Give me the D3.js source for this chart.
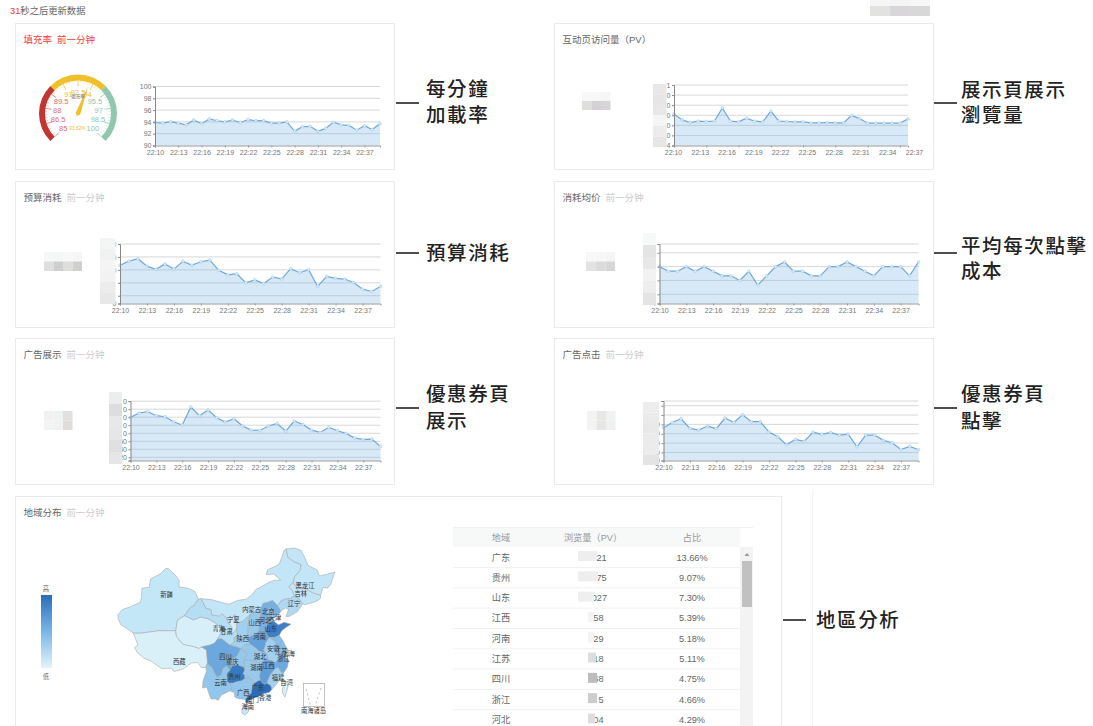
<!DOCTYPE html>
<meta charset="utf-8">
<style>
  body { margin: 0; background: #fff; }
  svg { display: block; font-family: "Liberation Sans", "Noto Sans CJK SC", sans-serif; }
  .title { font-size: 9.5px; fill: #666; }
  .sub { font-size: 9.5px; fill: #ccc; }
  .note { font-family: "Noto Sans CJK TC", sans-serif; font-size: 19.5px; font-weight: 500; fill: #222; letter-spacing: 1.6px; }
  .axis text { font-size: 7px; fill: #777; font-family: "Liberation Sans", sans-serif; }
  .cell { font-size: 9.2px; fill: #666; text-anchor: middle; }
  .head { font-size: 9.2px; fill: #999; text-anchor: middle; }
</style>
<script src="https://d3js.org/d3.v7.min.js"></script>

<div id="my_dataviz"></div>

<script>

// series, 22:10 - 22:39, one value a minute
var minutes = ["22:10","22:11","22:12","22:13","22:14","22:15","22:16","22:17","22:18","22:19",
  "22:20","22:21","22:22","22:23","22:24","22:25","22:26","22:27","22:28","22:29",
  "22:30","22:31","22:32","22:33","22:34","22:35","22:36","22:37","22:38","22:39"];
var tickLabels = ["22:10","22:13","22:16","22:19","22:22","22:25","22:28","22:31","22:34","22:37"];

var fillRate = [93.9,93.8,94.05,93.8,93.5,94.3,93.7,94.5,94.2,94,94.3,93.9,94.4,94.2,94.2,93.8,93.8,94,92.4,93.2,93.25,92.4,92.9,93.95,93.5,93.4,92.6,93.35,92.7,93.7];
var pageViews = [3.13,2.54,2.28,2.41,2.38,2.41,3.73,2.41,2.34,2.71,2.41,2.34,3.4,2.41,2.38,2.34,2.34,2.24,2.24,2.28,2.24,2.24,2.97,2.67,2.21,2.21,2.21,2.21,2.21,2.64];
var budgetSpend = [535,568,586,529,504,545,506,566,537,563,576,496,462,470,400,423,395,444,431,509,478,501,372,449,434,429,403,351,333,372];
var avgCost = [.28,.27,.27,.28,.27,.28,.27,.26,.26,.25,.27,.24,.26,.28,.29,.27,.27,.26,.26,.28,.28,.29,.28,.27,.26,.28,.28,.28,.26,.29];
var adViews = [698,752,769,719,706,644,602,827,719,790,694,640,681,590,539,535,590,623,527,652,610,539,510,573,531,498,439,423,427,335];
var adClicks = [46.4,52.1,56,45.7,43.9,48.2,45.4,56.8,52.1,60.4,52.9,52.9,41.8,36.8,28.2,33.9,31.8,41.8,39.3,41.4,38.6,39.6,26.1,38.6,38.6,32.9,30.4,23.2,26.4,22.9];

// y tick values, and what can still be read of their labels (the rest is blurred)
var fillTicks = [90,92,94,96,98,100];
var viewTicks = [0,1,2,3,4,5,6];
var viewTickText = ["4","0","0","0","0","0","1"];
var budgetTicks = [240,300,400,500,600,700];
var budgetTickText = ["0","","","0","0","0"];
var costTicks = [.2,.22,.25,.28,.31,.329];
var costTickText = ["4","","","2","",""];
var adViewTicks = [160,200,300,400,500,600,700,800,900];
var adViewTickText = ["","20","40","60","0","0","0","0","0"];
var clickTicks = [11.4,20,30,40,50,60,70,75];
var clickTickText = ["0","0","0","0","0","","",""];

// gauge
var gaugeValue = 93.62;
var gaugeLabels = [85,86.5,88,89.5,91,92.5,94,95.5,97,98.5,100];

// table
var tableRegions = ["广东","贵州","山东","江西","河南","江苏","四川","浙江","河北"];
var tableViews = ["21","75","027","58","29","18","68","5","04"];
var tableShares = ["13.66%","9.07%","7.30%","5.39%","5.18%","5.11%","4.75%","4.66%","4.29%"];

// map, rough outlines in lon/lat
var provinceNames = ["新疆","西藏","青海","甘肃","内蒙古","宁夏","陕西","山西","河北","北京","天津","辽宁","吉林","黑龙江","山东","河南","江苏","安徽","上海","浙江","湖北","湖南","江西","福建","四川","重庆","贵州","云南","广西","广东","海南","台湾"];
var provinceShares = [1,.2,.3,1.6,1.1,.4,2.4,2.8,4.29,3.1,1.5,1.9,1.1,1.1,7.3,5.18,3.6,2.4,2.6,4.66,2.9,2.8,5.39,2.4,4.75,2.9,9.07,3,3,13.66,.9,.3];
var provinceLabelAt = [[87.4,43.6],[91,29.5],[102.2,36.4],[104.4,35.8],[111.5,40.5],[106.3,38.3],[109,34.2],[112.4,37.6],[115.3,38.1],[116.2,39.9],[118.1,38.8],[123.5,41.7],[125.4,43.7],[126.6,45.5],[116.9,36.4],[113.7,34.6],[119.8,31.6],[117.6,32.1],[121.9,31.1],[120.5,30],[113.9,30.5],[112.9,28.2],[116.2,28.6],[119,26.1],[104.1,30.5],[106,29.3],[106.6,26.3],[102.7,25],[109.1,22.8],[113.2,24],[110.4,19.8],[121.4,25]];
var cityNames = ["香港","澳门"];
var cityLabelAt = [[115.3,21.7],[111.7,21.4]];
var provinceShapes = [
  [[73.6,39.4],[74.9,40.5],[76.9,41],[79.9,42],[80.3,43],[80.4,45],[82.5,45.2],[82.9,47],[85.6,48],[87,49.1],[87.8,49.2],[89.7,47.9],[91,46.6],[90.9,45.3],[93.5,45],[95.4,44.3],[96.4,42.7],[95.3,41.5],[93.9,40.7],[92.5,39.2],[90.5,38.3],[90,36],[85,36],[80.3,35.5],[78,35.5],[75.9,36.6],[74.5,37.2],[73.7,38.5]],
  [[78,35.5],[80.3,35.5],[85,36],[90,36],[90.2,34.8],[92,33.2],[93,33],[95,32.7],[96.5,32.3],[97.4,32.6],[98.7,31.9],[99,29.2],[98.5,28.3],[97.3,28.2],[96.2,29.3],[94.5,29.2],[92,27.9],[89.5,27.4],[88.8,28.1],[86,28],[83,29.6],[81,30.2],[79,31.5],[78.4,32.5],[79.3,33],[78.5,34.5]],
  [[90,36],[90.5,38.3],[92.5,39.2],[95,38.3],[97,38.9],[99,38.6],[101,37.8],[102.7,36.7],[102.8,35.5],[101.8,34.2],[101,33.4],[99.8,33],[97.4,32.6],[96.5,32.3],[95,32.7],[93,33],[92,33.2],[90.2,34.8]],
  [[92.5,39.2],[93.9,40.7],[95.3,41.5],[96.4,42.7],[97.2,42.8],[98.5,40.8],[100,40.5],[100.2,39.4],[102.4,39.1],[103,39.6],[104.2,38.9],[105,37.6],[106,36.6],[105.5,35.7],[106.1,35.4],[106.6,35.8],[107.3,36.6],[107.5,35],[106.5,34.5],[106.6,33.7],[105.4,32.9],[103,34.3],[101.8,34.2],[102.8,35.5],[102.7,36.7],[101,37.8],[99,38.6],[97,38.9],[95,38.3]],
  [[97.2,42.8],[100,42.6],[102,42.2],[105,41.6],[107.5,42.4],[110,42.7],[111.8,43.8],[112.8,44.8],[114.5,45.4],[116.5,46.3],[118,46.7],[119.7,46.7],[117.8,48],[115.6,47.9],[116,48.9],[117.8,49.5],[119.3,50.1],[120,51.5],[120.7,53],[121.2,53.3],[121.8,51.5],[123.5,50.6],[125.5,50],[125.2,48.7],[123.7,47.5],[123.2,46.2],[122,45.3],[123,44.5],[123.6,43.4],[122.5,42.8],[121,42.7],[119.8,42.3],[118.9,41.3],[117.4,42.4],[116,42],[114.8,41.8],[113.9,40.5],[113,40.4],[111.9,39.7],[111.1,39.5],[110.5,39],[108.8,37.9],[107.3,37.6],[106.7,39.4],[105.8,38.5],[105,37.6],[104.2,38.9],[103,39.6],[102.4,39.1],[100.2,39.4],[100,40.5],[98.5,40.8]],
  [[107.3,37.6],[106.7,39.4],[105.8,38.5],[105,37.6],[106,36.6],[105.5,35.7],[106.1,35.4],[106.6,35.8],[107.3,36.6]],
  [[111.1,39.5],[110.6,38],[110.5,36.5],[110.4,34.6],[111,33.2],[109.6,33.1],[108.4,32.2],[107.2,32.6],[105.4,32.9],[106.6,33.7],[106.5,34.5],[107.5,35],[107.3,36.6],[107.3,37.6],[108.8,37.9],[110.5,39]],
  [[111.1,39.5],[111.9,39.7],[113,40.4],[113.9,40.5],[114.1,39.5],[113.7,37.5],[113.6,36],[112.7,35.2],[111.2,34.8],[110.4,34.6],[110.5,36.5],[110.6,38]],
  [[113.6,36],[113.7,37.5],[114.1,39.5],[113.9,40.5],[114.8,41.8],[116,42],[117.4,42.4],[118.9,41.3],[119.8,40.2],[119.5,39.8],[118.5,39],[117.7,38.7],[117.5,38.2],[116.2,37.5],[115.4,36.5],[115.4,35.8],[114.9,36.1]],
  [[115.5,39.7],[116,40.6],[117,40.9],[117.4,40.2],[116.7,39.6],[116,39.6]],
  [[116.7,39.6],[117.4,40.2],[117.8,39.4],[117.6,38.7],[117.1,38.8]],
  [[119.8,40.2],[118.9,41.3],[119.8,42.3],[121,42.7],[122.5,42.8],[123.6,43.4],[124.8,42.9],[126,41.7],[124.4,40],[122,39],[121.2,39],[122,40.6],[121,40.8]],
  [[122,45.3],[123.2,46.2],[124.3,45.2],[126,45.2],[127.5,44.6],[129,44],[131,43.5],[131,42.9],[130.5,42.5],[129,42],[126.5,41.5],[126,41.7],[124.8,42.9],[123.6,43.4],[123,44.5]],
  [[121.2,53.3],[123.5,53.5],[125.5,53],[126.5,51.5],[127.5,49.8],[130,48.9],[130.7,47.6],[133,48],[135,48.4],[134,46],[133,45],[131.7,45.2],[131,43.5],[129,44],[127.5,44.6],[126,45.2],[124.3,45.2],[123.2,46.2],[123.7,47.5],[125.2,48.7],[125.5,50],[123.5,50.6],[121.8,51.5]],
  [[115.4,35.8],[115.4,36.5],[116.2,37.5],[117.5,38.2],[118.9,37.4],[119,37.2],[120.7,37.8],[122.6,37.4],[121,36.6],[120,36],[119.3,35],[118,34.6],[116.4,34.6],[116,34.9]],
  [[110.4,34.6],[111.2,34.8],[112.7,35.2],[113.6,36],[114.9,36.1],[115.4,35.8],[116,34.9],[116.4,34.6],[116,34],[115.5,33.5],[115.3,32.7],[114.9,32],[115.2,31.4],[113.7,31.6],[112.5,32.4],[111,33.2]],
  [[116.4,34.6],[118,34.6],[119.3,35],[120.3,34],[120.9,33],[121.9,31.8],[121.2,31.7],[121,30.8],[120.4,31],[119.6,31.1],[118.8,31.3],[119,32.3],[118.5,32.4],[118.3,33.5],[117.3,34.2]],
  [[116.4,34.6],[117.3,34.2],[118.3,33.5],[118.5,32.4],[119,32.3],[118.8,31.3],[119.6,31.1],[119.2,30.3],[118.2,29.2],[117.1,29.7],[116.1,29.8],[115.9,31],[115.2,31.4],[114.9,32],[115.3,32.7],[115.5,33.5],[116,34]],
  [[121,30.8],[121.9,30.9],[121.9,31.8],[121.2,31.7]],
  [[118.9,28.3],[119.9,27.2],[120.5,27],[121.6,28.3],[122,29.8],[121,30.5],[121,30.8],[120.4,31],[119.6,31.1],[119.2,30.3],[118.2,29.2],[118.2,28]],
  [[108.4,32.2],[109.6,33.1],[111,33.2],[112.5,32.4],[113.7,31.6],[115.2,31.4],[115.9,31],[116.1,29.8],[115,29.7],[114,29],[113,29.5],[112,29.6],[110.5,29.7],[109.2,29.8],[110.2,30.9],[109.6,31.6]],
  [[109.2,29.8],[110.5,29.7],[112,29.6],[113,29.5],[114,29],[114,27.5],[113.7,26.3],[114,25.6],[113,25.3],[112,24.8],[111.3,25.8],[110.6,26.3],[109.5,25.8],[109.5,26.6],[109,27],[109.5,27.6],[109.3,28.3],[109.3,29]],
  [[114,25.6],[114.4,25.1],[115.2,24.7],[115.9,24.9],[116,25.3],[116.6,26.4],[117.1,27],[118.2,28],[118.2,29.2],[117.1,29.7],[116.1,29.8],[115,29.7],[114,29],[114,27.5],[113.7,26.3]],
  [[115.9,24.9],[116.9,24.4],[117.2,23.6],[118.2,24.4],[119,25.2],[119.6,26],[120.5,27],[119.9,27.2],[118.9,28.3],[118.2,28],[117.1,27],[116.6,26.4],[116,25.3]],
  [[97.4,32.6],[99.8,33],[101,33.4],[101.8,34.2],[103,34.3],[105.4,32.9],[107.2,32.6],[108.4,32.2],[107.4,30.7],[106.3,30],[105.5,29.3],[106.2,28.8],[105.3,27.7],[104.3,28.6],[103.4,28],[102.8,26.6],[101.7,26.2],[101,27],[100.2,28.3],[99.3,28.7],[99,29.2],[98.7,31.9]],
  [[108.4,32.2],[109.6,31.6],[110.2,30.9],[109.2,29.8],[109.3,29],[109.3,28.3],[108.5,28.5],[107.4,28.9],[106.5,28.6],[106.2,28.8],[105.5,29.3],[106.3,30],[107.4,30.7]],
  [[105.3,27.7],[106.2,28.8],[106.5,28.6],[107.4,28.9],[108.5,28.5],[109.3,28.3],[109.5,27.6],[109,27],[109.5,26.6],[109.5,25.8],[108.6,25.4],[107.2,25.2],[106.2,24.9],[105.2,24.9],[104.5,25.2],[104.4,26.9]],
  [[98.5,28.3],[99,29.2],[99.3,28.7],[100.2,28.3],[101,27],[101.7,26.2],[102.8,26.6],[103.4,28],[104.3,28.6],[105.3,27.7],[104.4,26.9],[104.5,25.2],[105.2,24.9],[106,24],[105.3,23.3],[104,22.8],[103,22.5],[102,21.3],[101.2,21.6],[100,21.6],[99.3,22.9],[98.8,24.1],[97.6,23.9],[97.7,25.3],[98.7,27.5]],
  [[105.2,24.9],[106.2,24.9],[107.2,25.2],[108.6,25.4],[109.5,25.8],[110.6,26.3],[111.3,25.8],[112,24.8],[111.7,23.8],[111.4,22.9],[110.6,22.2],[109.7,21.5],[108.5,21.6],[107.9,21.6],[106.7,22],[106.6,22.9],[105.3,23.3],[106,24]],
  [[112,24.8],[113,25.3],[114,25.6],[114.4,25.1],[115.2,24.7],[115.9,24.9],[116.9,24.4],[117.2,23.6],[116.5,23],[114.8,22.7],[113.6,22.2],[112,21.7],[110.5,21.2],[110.2,20.4],[109.8,20.9],[109.7,21.5],[110.6,22.2],[111.4,22.9],[111.7,23.8]],
  [[108.7,19.3],[109.2,19.9],[110.5,20.1],[111,19.6],[110.4,18.7],[109.5,18.2],[108.7,18.6]],
  [[121.5,25.3],[122,25],[121.4,23.1],[120.9,22],[120.2,23],[120.3,24],[121,25]]
];

var svg = d3.select("#my_dataviz").append("svg")
  .attr("width", 1093)
  .attr("height", 726);

// top line
var topText = svg.append("text").attr("x", 10).attr("y", 14).attr("font-size", 9.3).attr("fill", "#666");
topText.append("tspan").attr("fill", "#e33").text("31");
topText.append("tspan").text("秒之后更新数据");

function card(x, y, w, h, title, sub, red) {
  svg.append("rect").attr("x", x + .5).attr("y", y + .5).attr("width", w).attr("height", h)
    .attr("fill", "#fff").attr("stroke", "#e8ecef");
  var t = svg.append("text").attr("x", x + 8.5).attr("y", y + 20).attr("class", "title").text(title);
  if (red) t.style("fill", "#f04040");
  if (sub) {
    svg.append("text").attr("x", x + 8.5 + title.length * 9.5 + 5).attr("y", y + 20)
      .attr("class", "sub").style("fill", red ? "#f04040" : null).text(sub);
  }
}

// one small area chart
function areaChart(o) {
  var g = svg.append("g");
  var x = d3.scalePoint().domain(minutes).range([o.left, o.right]);
  var y = d3.scaleLinear().domain(o.domain).range([o.bottom, o.top]);

  g.append("g").selectAll("line").data(o.yTicks.filter(function(d) { return d != o.domain[0]; }))
    .enter().append("line")
    .attr("x1", o.left).attr("x2", o.right)
    .attr("y1", function(d) { return y(d); }).attr("y2", function(d) { return y(d); })
    .attr("stroke", "#d8d8d8");

  var area = d3.area()
    .x(function(d, i) { return x(minutes[i]); })
    .y0(o.bottom)
    .y1(function(d) { return y(d); });
  var line = d3.line()
    .x(function(d, i) { return x(minutes[i]); })
    .y(function(d) { return y(d); });

  g.append("path").attr("d", area(o.values)).attr("fill", "#79b4e6").attr("fill-opacity", .3);
  g.append("path").attr("d", line(o.values)).attr("fill", "none").attr("stroke", "#6fa8dc").attr("stroke-width", 1.2);
  g.append("g").selectAll("circle").data(o.values).enter().append("circle")
    .attr("cx", function(d, i) { return x(minutes[i]); })
    .attr("cy", function(d) { return y(d); })
    .attr("r", 1.4)
    .attr("fill", "#dcecf9")
    .attr("stroke", "#a4cbed")
    .attr("stroke-width", .6);

  // x axis
  var xAxis = g.append("g").attr("class", "axis").attr("transform", "translate(0," + o.bottom + ")");
  if (o.labelRange) {
    // ticks and labels do not line up on this panel
    xAxis.call(d3.axisBottom(x).tickValues(minutes.filter(function(d, i) { return i % 4 == 0; })).tickSize(2).tickFormat(""));
    var lx = d3.scalePoint().domain(tickLabels).range(o.labelRange);
    xAxis.append("g").call(d3.axisBottom(lx).tickSize(0).tickPadding(5)).select(".domain").remove();
  } else {
    xAxis.call(d3.axisBottom(x).tickValues(tickLabels).tickSize(2).tickPadding(3));
  }
  xAxis.selectAll("path,line").attr("stroke", "#999");

  // y axis
  var yAxis = g.append("g").attr("class", "axis").attr("transform", "translate(" + o.left + ",0)")
    .call(d3.axisLeft(y).tickValues(o.yTicks).tickSize(2).tickPadding(1.5)
      .tickFormat(function(d, i) { return o.tickText ? o.tickText[i] : d; }));
  yAxis.selectAll("path,line").attr("stroke", "#888");
}

card(15, 23, 379, 146, "填充率", "前一分钟", true);
card(554, 23, 379, 146, "互动页访问量（PV）");
card(15, 181, 379, 146, "预算消耗", "前一分钟");
card(554, 181, 379, 146, "消耗均价", "前一分钟");
card(15, 338, 379, 146, "广告展示", "前一分钟");
card(554, 338, 379, 146, "广告点击", "前一分钟");
card(15, 496, 766, 240, "地域分布", "前一分钟");

areaChart({ values: fillRate, left: 155, right: 380, top: 86.5, bottom: 145.5,
  domain: [90, 100], yTicks: fillTicks });
areaChart({ values: pageViews, left: 674, right: 908, top: 85, bottom: 145.5, labelRange: [673, 914],
  domain: [0, 6], yTicks: viewTicks, tickText: viewTickText });
areaChart({ values: budgetSpend, left: 120, right: 380.5, top: 244, bottom: 303.5,
  domain: [240, 700], yTicks: budgetTicks, tickText: budgetTickText });
areaChart({ values: avgCost, left: 659.5, right: 918.5, top: 244, bottom: 303.5,
  domain: [.2, .329], yTicks: costTicks, tickText: costTickText });
areaChart({ values: adViews, left: 130.5, right: 380.5, top: 401, bottom: 460.5,
  domain: [160, 902], yTicks: adViewTicks, tickText: adViewTickText });
areaChart({ values: adClicks, left: 663.5, right: 918.5, top: 401, bottom: 460.5,
  domain: [11.4, 75], yTicks: clickTicks, tickText: clickTickText });

// gauge
var gaugeAngle = d3.scaleLinear().domain([85, 100]).range([-135 * Math.PI / 180, 135 * Math.PI / 180]);
var gaugeZones = [[85, 90, "#c23531"], [90, 95, "#f0c02a"], [95, 100, "#91c7ae"]];
var gaugeColor = function(v) { return v < 90 ? "#d9706c" : v < 95 ? "#f0c02a" : "#91c7ae"; };
var gauge = svg.append("g").attr("transform", "translate(78,113.5)");
var gaugeArc = d3.arc().innerRadius(33).outerRadius(39);
gauge.selectAll(".zone").data(gaugeZones).enter().append("path")
  .attr("d", function(d) { return gaugeArc({ startAngle: gaugeAngle(d[0]), endAngle: gaugeAngle(d[1]) }); })
  .attr("fill", function(d) { return d[2]; });
gauge.selectAll(".tick").data(d3.range(0, 51)).enter().append("line")
  .attr("transform", function(i) { return "rotate(" + (gaugeAngle(85 + i * .3) * 180 / Math.PI) + ")"; })
  .attr("y1", -33)
  .attr("y2", function(i) { return i % 5 == 0 ? -27 : -30.5; })
  .attr("stroke", function(i) { return gaugeColor(85 + i * .3); })
  .attr("stroke-width", function(i) { return i % 5 == 0 ? .9 : .4; })
  .attr("stroke-opacity", .8);
gauge.selectAll(".lab").data(gaugeLabels).enter().append("text")
  .attr("x", function(d) { return 21 * Math.sin(gaugeAngle(d)); })
  .attr("y", function(d) { return -21 * Math.cos(gaugeAngle(d)) + 2.5; })
  .attr("text-anchor", "middle")
  .attr("font-size", 7.5)
  .attr("fill", gaugeColor)
  .text(function(d) { return d; });
gauge.append("path")
  .attr("d", "M0,-29L2.4,0L0,3L-2.4,0Z")
  .attr("transform", "rotate(" + (gaugeAngle(gaugeValue) * 180 / Math.PI) + ")")
  .attr("fill", "#f0c02a");
gauge.append("text").attr("y", -15.5).attr("text-anchor", "middle").attr("font-size", 4.5).attr("fill", "#666").text("填充率");
gauge.append("text").attr("x", -.5).attr("y", 16.5).attr("text-anchor", "middle").attr("font-size", 4.8).attr("fill", "#f0c02a").text(gaugeValue + "%");

// map
var lon = d3.scaleLinear().domain([73.5, 135.1]).range([117.5, 335]);
var lat = d3.scaleLinear().domain([53.5, 18.2]).range([548, 715]);
var mapColor = d3.scaleLinear().domain([0, 1, 3, 5, 7.3, 13.66])
  .range(["#dff2f9", "#c4e7f8", "#93c6ec", "#66a3dc", "#3c7fc6", "#2b6cb8"]);
var outline = d3.line().x(function(d) { return lon(d[0]); }).y(function(d) { return lat(d[1]); })
  .curve(d3.curveLinearClosed);

svg.append("g").selectAll("path").data(provinceShapes).enter().append("path")
  .attr("d", outline)
  .attr("fill", function(d, i) { return mapColor(provinceShares[i]); })
  .attr("stroke", "#a9a9a9")
  .attr("stroke-width", .6);

svg.append("g").selectAll("text").data(provinceNames.concat(cityNames)).enter().append("text")
  .attr("transform", function(d, i) {
    var p = provinceLabelAt.concat(cityLabelAt)[i];
    return "translate(" + lon(p[0]) + "," + (lat(p[1]) + 2) + ")";
  })
  .attr("text-anchor", "middle")
  .attr("font-size", 6.3)
  .attr("fill", "#333")
  .text(function(d) { return d; });

// south china sea inset
svg.append("rect").attr("x", 303.5).attr("y", 683.5).attr("width", 21).attr("height", 23)
  .attr("fill", "#fff").attr("stroke", "#aaa").attr("stroke-width", .7);
svg.append("g").selectAll("line").data(d3.range(8)).enter().append("line")
  .attr("x1", function(i) { return i < 4 ? 306 + i * 1.2 : 321 - (i - 4) * 1.5; })
  .attr("x2", function(i) { return i < 4 ? 306.6 + i * 1.2 : 320.5 - (i - 4) * 1.5; })
  .attr("y1", function(i) { return i < 4 ? 689 + i * 4.5 : 688 + (i - 4) * 4.5; })
  .attr("y2", function(i) { return i < 4 ? 691 + i * 4.5 : 690 + (i - 4) * 4.5; })
  .attr("stroke", "#999").attr("stroke-width", .6);
svg.append("text").attr("x", 313.5).attr("y", 713).attr("text-anchor", "middle")
  .attr("font-size", 6.3).attr("fill", "#333").text("南海诸岛");

// legend
var legendGrad = svg.append("defs").append("linearGradient").attr("id", "legendGrad")
  .attr("x1", 0).attr("x2", 0).attr("y1", 0).attr("y2", 1);
legendGrad.append("stop").attr("offset", 0).attr("stop-color", "#2b6cb8");
legendGrad.append("stop").attr("offset", .5).attr("stop-color", "#79b6e6");
legendGrad.append("stop").attr("offset", 1).attr("stop-color", "#e4f4fa");
svg.append("rect").attr("x", 41).attr("y", 595).attr("width", 11).attr("height", 73).attr("fill", "url(#legendGrad)");
svg.append("text").attr("x", 46).attr("y", 591).attr("text-anchor", "middle").attr("font-size", 6.3).attr("fill", "#666").text("高");
svg.append("text").attr("x", 46).attr("y", 679).attr("text-anchor", "middle").attr("font-size", 6.3).attr("fill", "#666").text("低");

// table
var rowY = d3.scalePoint().domain(tableRegions).range([557, 719.5]);
var viewsRight = [606.7, 606.7, 607, 603.5, 603.5, 603.5, 603.5, 603.5, 603.5];
var viewsMask = [[578, 19, "#eeeeee"], [578, 20, "#eeeeee"], [578, 16, "#efefef"], [588, 6, "#f4f4f4"], [588, 6, "#f4f4f4"],
  [588, 8, "#dddddd"], [588, 9, "#bdbdbd"], [588, 9, "#cccccc"], [588, 7, "#dddddd"]];
svg.append("rect").attr("x", 453).attr("y", 528).attr("width", 287).attr("height", 19).attr("fill", "#f7f8f8");
svg.append("line").attr("x1", 453).attr("x2", 753).attr("y1", 527.5).attr("y2", 527.5).attr("stroke", "#eef0f2");
svg.append("text").attr("class", "head").attr("x", 501).attr("y", 540.5).text("地域");
svg.append("text").attr("class", "head").attr("x", 593).attr("y", 540.5).text("浏览量（PV）");
svg.append("text").attr("class", "head").attr("x", 692).attr("y", 540.5).text("占比");
svg.append("rect").attr("x", 740).attr("y", 547).attr("width", 13).attr("height", 179).attr("fill", "#f3f3f3");
svg.append("rect").attr("x", 742).attr("y", 561).attr("width", 10).attr("height", 46).attr("fill", "#c1c1c1");
svg.append("path").attr("d", "M744.5,556L747,553L749.5,556Z").attr("fill", "#999");

var rows = svg.append("g").selectAll("g").data(tableRegions).enter().append("g")
  .attr("transform", function(d) { return "translate(0," + rowY(d) + ")"; });
rows.append("line").attr("x1", 453).attr("x2", 740).attr("y1", 10.5).attr("y2", 10.5).attr("stroke", "#f0f2f5");
rows.append("text").attr("class", "cell").attr("x", 501).attr("y", 3.5).text(function(d) { return d; });
rows.append("text").attr("class", "cell").attr("x", 692).attr("y", 3.5).text(function(d, i) { return tableShares[i]; });
rows.append("text").attr("class", "cell").attr("x", function(d, i) { return viewsRight[i]; }).attr("y", 3.5).style("text-anchor", "end")
  .text(function(d, i) { return tableViews[i]; });
rows.append("rect")
  .attr("x", function(d, i) { return viewsMask[i][0]; }).attr("y", -6)
  .attr("width", function(d, i) { return viewsMask[i][1]; }).attr("height", 10)
  .attr("fill", function(d, i) { return viewsMask[i][2]; });

// blurred out areas: x, y, cell w, cell h, rows of greys
var blurBlocks = [
  [870, 0, 20, 6, [["#f6f6f6", "#f4f4f4", "#f7f7f7"]]],
  [870, 6, 20, 10, [["#e2e2e0", "#d8d6d8", "#d8d8d8"]]],
  [582, 92, 9.5, 9, [["#f8f8f8", "#f8f8f8", "#f6f6f6"], ["#dededc", "#d4d2d4", "#d6d6d6"]]],
  [653, 84, 13.5, 10.5, [["#e8e8e8"], ["#e6e6e6"], ["#e8e8e8"], ["#f4f5f4"], ["#ececec"], ["#e6e6e6"]]],
  [44, 252, 9.5, 9.5, [["#f6f7f7", "#f5f6f6", "#f8f8f8", "#f6f6f6"], ["#dededc", "#cfcfcf", "#dededc", "#d0d0d0"]]],
  [100, 238, 15.5, 11, [["#f4f5f5"], ["#f0f1f1"], ["#f4f4f4"], ["#f2f2f2"], ["#ececec"], ["#e8e8e8"]]],
  [586, 252, 9.7, 9.5, [["#f7f7f7", "#f7f7f7", "#f5f5f5"], ["#e2e2e2", "#dbdbdb", "#d6d6d6"]]],
  [643, 233, 13, 12, [["#f7f8f8"], ["#e4e4e4"], ["#e8e8e8"], ["#f2f2f2"], ["#eeeeee"], ["#e4e4e4"]]],
  [44, 411, 9.5, 9.5, [["#f1f1f1", "#eff2f2", "#e2e0df"], ["#f4f5f3", "#f0f2f2", "#dfdcda"]]],
  [109, 392, 13, 12, [["#eceeee"], ["#dddddb"], ["#e8e8e8"], ["#e6e6e6"], ["#e0e0e0"], ["#e6e6e6"]]],
  [587, 411, 9.5, 9.5, [["#f3f3f3", "#e8e7e5", "#f0f1f3"], ["#f3f3f3", "#e7e6e4", "#eff0f2"]]],
  [643, 402, 16, 10.5, [["#ededed"], ["#ebebeb"], ["#e9e9e9"], ["#ebebeb"], ["#ececec"], ["#e4e4e4"]]]
];
blurBlocks.forEach(function(b) {
  b[4].forEach(function(row, r) {
    row.forEach(function(c, k) {
      svg.append("rect").attr("x", b[0] + k * b[2]).attr("y", b[1] + r * b[3])
        .attr("width", b[2]).attr("height", b[3]).attr("fill", c);
    });
  });
});

// annotations on the right of each card
var notes = [
  { x1: 396, x2: 419, y: 103, tx: 426, lines: ["每分鐘", "加載率"], ys: [89, 115] },
  { x1: 934, x2: 957, y: 103, tx: 961, lines: ["展示頁展示", "瀏覽量"], ys: [90, 115] },
  { x1: 396, x2: 419, y: 253, tx: 426, lines: ["預算消耗"], ys: [253] },
  { x1: 934, x2: 957, y: 253, tx: 961, lines: ["平均每次點擊", "成本"], ys: [246, 271] },
  { x1: 396, x2: 419, y: 408, tx: 426, lines: ["優惠券頁", "展示"], ys: [394, 421] },
  { x1: 934, x2: 957, y: 408, tx: 961, lines: ["優惠券頁", "點擊"], ys: [394, 421] },
  { x1: 783, x2: 806, y: 620, tx: 816, lines: ["地區分析"], ys: [620] }
];
notes.forEach(function(n) {
  svg.append("line").attr("x1", n.x1).attr("x2", n.x2).attr("y1", n.y).attr("y2", n.y)
    .attr("stroke", "#222").attr("stroke-width", 1.6);
  n.lines.forEach(function(t, i) {
    svg.append("text").attr("class", "note").attr("x", n.tx).attr("y", n.ys[i] + 7).text(t);
  });
});

// faint rule right of the map card
svg.append("line").attr("x1", 812.5).attr("x2", 812.5).attr("y1", 490).attr("y2", 726).attr("stroke", "#f2f4f5");

</script>
